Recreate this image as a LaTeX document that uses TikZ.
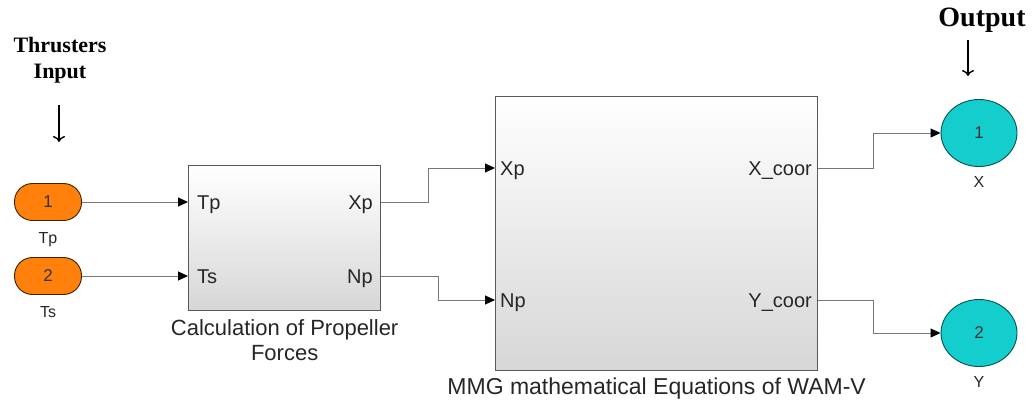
\documentclass[tikz,border=0pt]{standalone}
\usepackage{fontspec}
\setmainfont{Liberation Sans}
\newfontfamily\titlefont{Liberation Serif}
\definecolor{naranja}{RGB}{255,128,10}
\definecolor{cian}{RGB}{20,205,205}
\definecolor{alambre}{RGB}{120,120,120}
\usetikzlibrary{arrows.meta,shapes.geometric,positioning,calc}

\begin{document}
\begin{tikzpicture}[x=1pt,y=-1pt,
    inport/.style={draw=black!75!orange,fill=naranja,rounded corners=18pt,
      minimum width=67pt,minimum height=37pt,inner sep=0pt,line width=0.9pt,
      font=\fontsize{17}{17}\selectfont,text=black!80},
    outport/.style={ellipse,draw=black!60!cian,fill=cian,minimum width=76pt,
      minimum height=67pt,inner sep=0pt,line width=0.9pt,
      font=\fontsize{17}{17}\selectfont,text=black!80},
    block/.style={draw=black!65,line width=1.3pt,top color=white,
      bottom color=black!16,inner sep=0pt,anchor=north west},
    plabel/.style={font=\fontsize{20}{20}\selectfont,inner sep=0pt,
      text height=14pt,text depth=0pt,text=black!85},
    slabel/.style={font=\fontsize{16}{16}\selectfont,inner sep=0pt,text=black!85},
    caption/.style={font=\fontsize{22}{25}\selectfont,align=center,inner sep=0pt,
      text=black!85},
    title/.style={font=\titlefont\bfseries,align=center,inner sep=0pt},
    wire/.style={draw=alambre,line width=1pt,
      -{Triangle[length=10pt,width=9pt,color=black]}},
    pointer/.style={line width=1.4pt,-{To[length=6pt,width=12pt]}}]
  \useasboundingbox (0,0) rectangle (1032,405);

  % inputs
  \node[title,font=\titlefont\bfseries\fontsize{22}{26}\selectfont] (thr) at (60,60) {Thrusters\\Input};
  \coordinate (thrarrow) at (59,105);
  \draw[pointer] (thrarrow) -- ++(0,37);
  \node[inport] (in1) at (48,202) {1};
  \node[inport] (in2) at (48,276) {2};
  \node[slabel,below=11pt of in1] (in1lab) {Tp};
  \node[slabel,below=11pt of in2] (in2lab) {Ts};

  % propeller forces block
  \node[block,minimum width=192pt,minimum height=145pt] (calc) at (188,165) {};
  \node[plabel,anchor=west] (ctp) at (197,202) {Tp};
  \node[plabel,anchor=west] (cts) at (197,276) {Ts};
  \node[plabel,anchor=east] (cxp) at (373,202) {Xp};
  \node[plabel,anchor=east] (cnp) at (373,276) {Np};
  \node[caption,below=8pt of calc] (calccap) {Calculation of Propeller\\Forces};

  % MMG block
  \node[block,minimum width=322pt,minimum height=274pt] (mmg) at (495,96) {};
  \node[plabel,anchor=west] (mxp) at (500,168) {Xp};
  \node[plabel,anchor=west] (mnp) at (500,300) {Np};
  \node[plabel,anchor=east] (mxc) at (812,168) {X\_coor};
  \node[plabel,anchor=east] (myc) at (812,300) {Y\_coor};
  \node[caption,font=\fontsize{23}{25}\selectfont,below=6pt of mmg] (mmgcap) {MMG mathematical Equations of WAM-V};

  % outputs
  \node[title,font=\titlefont\bfseries\fontsize{28}{28}\selectfont] (outt) at (982,20) {Output};
  \coordinate (outarrow) at (968,40);
  \draw[pointer] (outarrow) -- ++(0,36);
  \node[outport] (out1) at (979,133) {1};
  \node[outport] (out2) at (979,333) {2};
  \node[slabel,below=9pt of out1] (out1lab) {X};
  \node[slabel,below=9pt of out2] (out2lab) {Y};

  % connectors
  \draw[wire] (in1.east) -- (in1 -| calc.west);
  \draw[wire] (in2.east) -- (in2 -| calc.west);
  \draw[wire] (calc.east |- cxp) -- ++(47,0) |- (mmg.west |- mxp);
  \draw[wire] (calc.east |- cnp) -- ++(57,0) |- (mmg.west |- mnp);
  \draw[wire] (mmg.east |- mxc) -- ++(55,0) |- (out1.west);
  \draw[wire] (mmg.east |- myc) -- ++(55,0) |- (out2.west);
\end{tikzpicture}
\end{document}
